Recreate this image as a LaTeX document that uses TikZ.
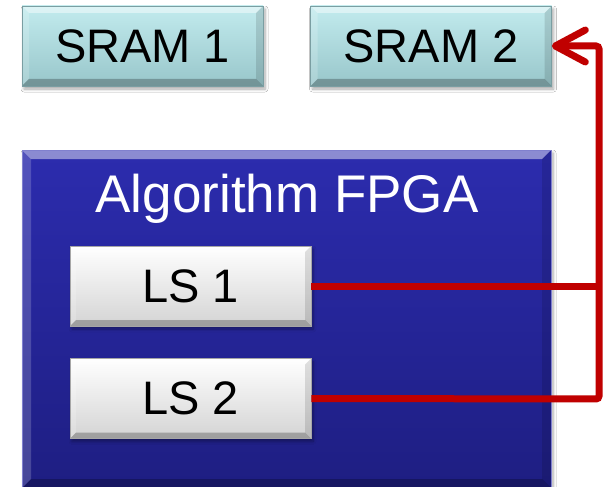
\documentclass[tikz,border=0pt]{standalone}
\usepackage{fontspec}
\setmainfont{Liberation Sans}
\usetikzlibrary{arrows.meta,shadows.blur}

\definecolor{wirered}{HTML}{C00000}
\definecolor{sramtop}{HTML}{C2EBEE}
\definecolor{srambot}{HTML}{98C6CA}
\definecolor{fpgatop}{HTML}{2C2CAE}
\definecolor{fpgabot}{HTML}{1E1E82}

\tikzset{
  % bevelled edge: light top/left, dark bottom/right
  bevel/.style={path picture={
    \fill[white,opacity=0.45]
      (path picture bounding box.north west) -- (path picture bounding box.north east)
      -- ([shift={(-#1,-#1)}]path picture bounding box.north east)
      -- ([shift={(#1,-#1)}]path picture bounding box.north west) -- cycle;
    \fill[white,opacity=0.18]
      (path picture bounding box.north west) -- (path picture bounding box.south west)
      -- ([shift={(#1,#1)}]path picture bounding box.south west)
      -- ([shift={(#1,-#1)}]path picture bounding box.north west) -- cycle;
    \fill[black,opacity=0.25]
      (path picture bounding box.south west) -- (path picture bounding box.south east)
      -- ([shift={(-#1,#1)}]path picture bounding box.south east)
      -- ([shift={(#1,#1)}]path picture bounding box.south west) -- cycle;
    \fill[black,opacity=0.12]
      (path picture bounding box.north east) -- (path picture bounding box.south east)
      -- ([shift={(-#1,#1)}]path picture bounding box.south east)
      -- ([shift={(-#1,-#1)}]path picture bounding box.north east) -- cycle;
  }},
  boxshadow/.style={blur shadow={shadow xshift=2pt,shadow yshift=-3pt,
      shadow blur steps=6,shadow blur radius=3pt,shadow opacity=35}},
  srambox/.style={rectangle,minimum width=241pt,minimum height=80pt,inner sep=0pt,
      top color=sramtop,bottom color=srambot,draw=srambot!80!black,line width=0.6pt,
      bevel=7pt,boxshadow,font=\fontsize{47}{50}\selectfont,text=black},
  fpgabox/.style={rectangle,minimum width=529pt,minimum height=338pt,inner sep=0pt,
      top color=fpgatop,bottom color=fpgabot,draw=fpgatop!60!white,line width=0.6pt,
      bevel=9pt,boxshadow},
  lsbox/.style={rectangle,minimum width=241pt,minimum height=80pt,inner sep=0pt,
      top color=white,bottom color=black!17,draw=black!35,line width=0.6pt,
      bevel=6pt,boxshadow,font=\fontsize{47}{50}\selectfont,text=black},
  titletext/.style={font=\fontsize{53}{56}\selectfont,text=white,inner sep=0pt},
  wire/.style={draw=wirered,line width=7pt,rounded corners=3pt},
}

\begin{document}
\begin{tikzpicture}[x=1pt,y=-1pt]
  \useasboundingbox[fill=white] (0,0) rectangle (603,487);

  % memories
  \node[srambox] (sram1) at (142.5,46) {SRAM 1};
  \node[srambox] (sram2) at (431,46) {SRAM 2};

  % FPGA with its two units
  \node[fpgabox] (fpga) at (286.5,319) {};
  \node[titletext,anchor=base] (title) at (287,212) {Algorithm FPGA};
  \node[lsbox] (ls1) at (190.5,286) {LS 1};
  \node[lsbox] (ls2) at (190.5,398.5) {LS 2};

  % bus back to SRAM 2
  \coordinate (bus) at (599,399);
  \draw[wire] (ls1.east) -- (ls1.east -| bus);
  \draw[wire,-{Straight Barb[length=30pt,width=32pt,line cap=round,line join=round]}]
    (ls2.east) -- (bus) |- (sram2.east);
\end{tikzpicture}
\end{document}
